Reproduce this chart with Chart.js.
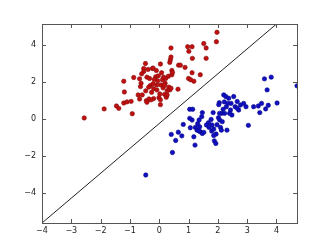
<!DOCTYPE html>
<html>
<head>
<meta charset="utf-8">
<script src="https://cdn.jsdelivr.net/npm/chart.js@4.4.1/dist/chart.umd.min.js"></script>
<style>
  html, body { margin: 0; padding: 0; background: #fff; }
  #wrap { width: 330px; height: 249px; position: relative; }
</style>
</head>
<body>
<div id="wrap"><canvas id="scatter"></canvas></div>
<script>
// values
const redX = [-2.56, -1.88, -1.46, -1.38, -1.21, -1.10, -0.96, -0.92, -1.21, -1.19,
  -0.87, -0.72, -0.67, -0.67, -0.62, -0.58, -0.53, -0.53, -0.47, -0.46,
  -0.44, -0.42, -0.42, -0.38, -0.35, -0.33, -0.30, -0.26, -0.23, -0.21,
  -0.19, -0.21, -0.12, -0.08, -0.05, -0.03, -0.01, 0.02, 0.04, 0.04,
  0.06, 0.08, 0.11, 0.13, 0.15, 0.18, 0.20, 0.22, 0.27, 0.24,
  0.31, 0.33, 0.36, 0.38, 0.40, 0.40, 0.43, 0.43, 0.45, 0.36,
  0.40, 0.64, 0.66, 0.72, 0.88, 0.97, 1.01, 1.00, 1.07, 1.12,
  1.13, 1.12, 1.18, 1.40, 1.52, 1.60, 1.60, 1.97, 1.95, -0.19,
  -0.28, -0.08, -0.17, 0.04, 0.18, -0.64, -0.60, -0.36, -0.10, 0.27];
const redY = [0.04, 0.53, 0.69, 0.56, 0.85, 0.91, 0.94, 0.27, 2.03, 1.45,
  2.23, 1.29, 1.07, 2.16, 1.92, 1.29, 2.72, 2.56, 2.99, 1.51,
  0.98, 0.89, 2.25, 2.67, 1.07, 2.18, 1.80, 1.43, 2.72, 1.89,
  1.63, 2.74, 2.27, 1.56, 2.05, 2.32, 1.14, 1.34, 0.76, 2.96,
  1.83, 2.49, 2.11, 1.67, 2.25, 1.32, 1.92, 2.18, 1.52, 1.16,
  2.30, 1.71, 3.05, 3.19, 3.34, 3.83, 2.38, 2.61, 2.50, 1.56,
  1.65, 1.60, 2.90, 2.90, 2.78, 3.90, 3.65, 2.18, 2.11, 3.90,
  3.27, 2.49, 2.03, 2.38, 4.07, 3.83, 3.27, 4.68, 4.17, 1.09,
  1.02, 1.83, 2.12, 1.02, 1.81, 1.74, 2.43, 1.71, 2.61, 1.29];

const blueX = [0.45, 0.41, 0.56, 0.65, 0.77, 0.82, 1.04, 1.14, 1.04, 1.12,
  1.06, 1.18, 1.22, 1.23, 1.29, 1.31, 1.36, 1.40, 1.45, 1.47,
  1.38, 1.47, 1.52, 1.68, 1.70, 1.77, 1.79, 1.84, 1.86, 1.88,
  1.93, 1.94, 1.97, 2.02, 2.06, 2.05, 2.09, 2.12, 2.15, 2.20,
  2.22, 2.23, 2.27, 2.29, 2.34, 2.31, 2.37, 2.43, 2.45, 2.48,
  2.54, 2.59, 2.66, 2.71, 2.77, 2.88, 2.96, 3.04, 3.22, 3.38,
  3.43, 3.49, 3.63, 3.72, 3.68, 3.59, 3.82, 4.02, 4.70, -0.46,
  2.03, 2.18, 2.13, 2.40, 2.06, 1.80, 1.61, 1.86, 1.35, 2.66];
const blueY = [-1.83, -0.85, -1.18, -0.73, -0.93, -0.31, 0.51, 0.51, 0.02, -0.07,
  -0.49, -0.98, -1.43, -0.47, -0.62, -0.27, -0.07, -0.71, 0.11, 0.33,
  -0.44, -0.80, -0.74, -0.22, -0.47, -0.04, -0.67, 0.33, -0.56, -1.20,
  -1.34, -0.83, -0.33, 0.05, -0.07, 0.87, -0.47, -0.62, -0.16, 1.29,
  0.91, 0.29, 1.20, 0.65, 0.83, -0.62, 1.11, 0.47, 0.83, 0.20,
  1.20, 0.65, 0.93, 0.47, 0.74, 0.83, 0.65, -0.36, 0.65, 0.69,
  0.33, 0.83, 0.53, 0.73, 1.56, 2.16, 2.25, 0.85, 1.78, -3.05,
  0.76, 0.51, 0.29, 0.29, 0.29, -0.34, -0.34, -0.91, -0.65, 0.56];

const lineX = [-4, 4];
const lineY = [-5.65, 5.13];

const xTicks = [-4, -3, -2, -1, 0, 1, 2, 3, 4];
const yTicks = [-4, -2, 0, 2, 4];

const pts = (xs, ys) => xs.map((x, i) => ({ x: x, y: ys[i] }));
const minus = v => String(v).replace('-', '\u2212');

// matplotlib style frame with inward ticks on all four sides
const framePlugin = {
    id: 'frame',
    afterDatasetsDraw(chart) {
        const { ctx, chartArea: a, scales } = chart;
        ctx.save();
        ctx.strokeStyle = '#555';
        ctx.lineWidth = 1;
        ctx.beginPath();
        xTicks.forEach(v => {
            const px = Math.round(scales.x.getPixelForValue(v)) + 0.5;
            ctx.moveTo(px, a.bottom); ctx.lineTo(px, a.bottom - 4);
            ctx.moveTo(px, a.top); ctx.lineTo(px, a.top + 4);
        });
        yTicks.forEach(v => {
            const py = Math.round(scales.y.getPixelForValue(v)) + 0.5;
            ctx.moveTo(a.left, py); ctx.lineTo(a.left + 4, py);
            ctx.moveTo(a.right, py); ctx.lineTo(a.right - 4, py);
        });
        ctx.stroke();
        ctx.strokeRect(Math.round(a.left) + 0.5, Math.round(a.top) + 0.5,
            Math.round(a.right - a.left), Math.round(a.bottom - a.top));
        ctx.restore();
    }
};

new Chart(document.getElementById('scatter'), {
    type: 'scatter',
    data: {
        datasets: [
            {
                data: pts(redX, redY),
                backgroundColor: '#c01010',
                borderColor: '#8a0c0c',
                borderWidth: 0.6,
                pointRadius: 2.2,
                clip: 0
            },
            {
                data: pts(blueX, blueY),
                backgroundColor: '#1010c0',
                borderColor: '#08088a',
                borderWidth: 0.6,
                pointRadius: 2.2,
                clip: 0
            },
            {
                type: 'line',
                data: pts(lineX, lineY),
                borderColor: '#222',
                borderWidth: 1,
                pointRadius: 0,
                fill: false
            }
        ]
    },
    options: {
        responsive: true,
        maintainAspectRatio: false,
        animation: false,
        layout: { padding: { top: 24, right: 33, left: 0, bottom: 0 } },
        plugins: { legend: { display: false }, tooltip: { enabled: false } },
        scales: {
            x: {
                type: 'linear',
                min: -4,
                max: 4.7,
                grid: { display: false, drawTicks: false },
                border: { display: false },
                afterBuildTicks: s => { s.ticks = xTicks.map(v => ({ value: v })); },
                afterFit: s => { s.height = 26; },
                ticks: {
                    padding: 3,
                    autoSkip: false,
                    maxRotation: 0,
                    color: '#222',
                    font: { family: 'DejaVu Sans', size: 8 },
                    callback: v => minus(v)
                }
            },
            y: {
                min: -5.65,
                max: 5.13,
                grid: { display: false, drawTicks: false },
                border: { display: false },
                afterBuildTicks: s => { s.ticks = yTicks.map(v => ({ value: v })); },
                afterFit: s => { s.width = 42; },
                ticks: {
                    padding: 6,
                    autoSkip: false,
                    color: '#222',
                    font: { family: 'DejaVu Sans', size: 8 },
                    callback: v => minus(v)
                }
            }
        }
    },
    plugins: [framePlugin]
});
</script>
</body>
</html>
